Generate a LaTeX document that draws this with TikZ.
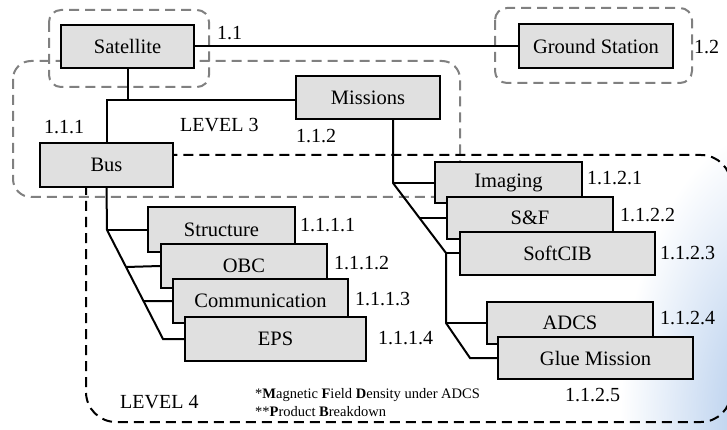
\documentclass[tikz,border=0pt]{standalone}
\usepackage{fontspec}
\setmainfont{Liberation Serif}
\usetikzlibrary{calc}
\definecolor{boxgray}{RGB}{224,224,224}
\definecolor{dashgray}{RGB}{128,128,128}
\definecolor{bgblue}{RGB}{170,198,234}
\begin{document}
\begin{tikzpicture}[x=1pt,y=-1pt,
  box/.style={draw=black, line width=2pt, fill=boxgray, inner sep=0pt, font=\fontsize{20.5}{24}\selectfont},
  lbl/.style={anchor=west, inner sep=0pt, font=\fontsize{20}{24}\selectfont},
  conn/.style={line width=2pt},
  gdash/.style={draw=dashgray, line width=2pt, dash pattern=on 10pt off 6pt},
  bdash/.style={draw=black, line width=2pt, dash pattern=on 10pt off 6pt},
]
\useasboundingbox (0,0) rectangle (727,430);
% background gradient
\begin{scope}
  \clip (0,0) rectangle (727,430);
  \shade[inner color=bgblue, outer color=white] (770,420) ellipse (150 and 290);
\end{scope}

% group outlines
\draw[gdash, rounded corners=12] (49,10) rectangle (209,87);
\draw[gdash, rounded corners=12] (495,8) rectangle (692,83);
\draw[gdash, rounded corners=18] (13,61) rectangle (460,197);
\draw[bdash, rounded corners=30] (86,155) rectangle (731,422);

% boxes
\node[box, minimum width=133pt, minimum height=43pt] (sat) at (127.5,46.5) {Satellite};
\node[box, minimum width=154pt, minimum height=44pt] (gs) at (596,46.5) {Ground Station};
\node[box, minimum width=144pt, minimum height=43pt] (mis) at (368,97.5) {Missions};
\node[box, minimum width=133pt, minimum height=44pt] (bus) at (106.5,165) {Bus};
\node[box, minimum width=147pt, minimum height=45pt] (str) at (221.5,229.5) {Structure};
\node[box, minimum width=166pt, minimum height=44pt] (obc) at (244,266) {OBC};
\node[box, minimum width=175pt, minimum height=44pt] (com) at (260.5,301) {Communication};
\node[box, minimum width=181pt, minimum height=44pt] (eps) at (275.5,339) {EPS};
\node[box, minimum width=147pt, minimum height=41pt] (img) at (508.5,182.5) {Imaging};
\node[box, minimum width=166pt, minimum height=42pt] (sf) at (530,218) {S\&F};
\node[box, minimum width=195pt, minimum height=43pt] (scib) at (557.5,253.5) {SoftCIB};
\node[box, minimum width=166pt, minimum height=42pt] (adcs) at (570,323) {ADCS};
\node[box, minimum width=195pt, minimum height=42pt] (glue) at (595.5,358) {Glue Mission};

% coordinates of connector bends
\coordinate (j) at (128,100);
\coordinate (b0) at (107,230);
\coordinate (b3) at (163,339);
\coordinate (m0) at (393,183);
\coordinate (m1) at (446,253);
\coordinate (m2) at (446,323);
\coordinate (m3) at (470,358);

% connectors
\draw[conn] (sat.east) -- (gs.west |- sat.east);
\draw[conn] (sat.south -| j) -- (j);
\draw[conn] (bus.north) -- (bus.north |- j) -- (mis.west |- j);
\draw[conn] (bus.south) -- (b0) -- (b3) -- (eps.west |- b3);
\draw[conn] (b0) -- (str.west |- b0);
\draw[conn] ($(b0)!37/109!(b3)$) -- (obc.west);
\draw[conn] ($(b0)!71/109!(b3)$) -- (com.west);
\draw[conn] (mis.south -| m0) -- (m0) -- (m1) -- (m2) -- (m3) -- (glue.west);
\draw[conn] (m0) -- (img.west |- m0);
\draw[conn] ($(m0)!0.5!(m1)$) -- (sf.west);
\draw[conn] (m1) -- (scib.west |- m1);
\draw[conn] (m2) -- (adcs.west);

% labels
\node[lbl] (l11) at (217,33) {1.1};
\node[lbl] (l12) at (694,47) {1.2};
\node[lbl] (l111) at (44,127) {1.1.1};
\node[lbl] (l112) at (296,136) {1.1.2};
\node[lbl] (lv3) at (180,125) {LEVEL 3};
\node[lbl] (lv4) at (120,402) {LEVEL 4};
\node[lbl] (l1111) at (300,225) {1.1.1.1};
\node[lbl] (l1112) at (334,263) {1.1.1.2};
\node[lbl] (l1113) at (355,299) {1.1.1.3};
\node[lbl] (l1114) at (378,338) {1.1.1.4};
\node[lbl] (l1121) at (587,178) {1.1.2.1};
\node[lbl] (l1122) at (620,215) {1.1.2.2};
\node[lbl] (l1123) at (660,253) {1.1.2.3};
\node[lbl] (l1124) at (660,318) {1.1.2.4};
\node[lbl] (l1125) at (565,395) {1.1.2.5};
\node[anchor=north west, inner sep=0pt, align=left, font=\fontsize{14.5}{18}\selectfont] (note) at (255,388)
  {*\textbf{M}agnetic \textbf{F}ield \textbf{D}ensity under ADCS\\**\textbf{P}roduct \textbf{B}reakdown};
\end{tikzpicture}
\end{document}
